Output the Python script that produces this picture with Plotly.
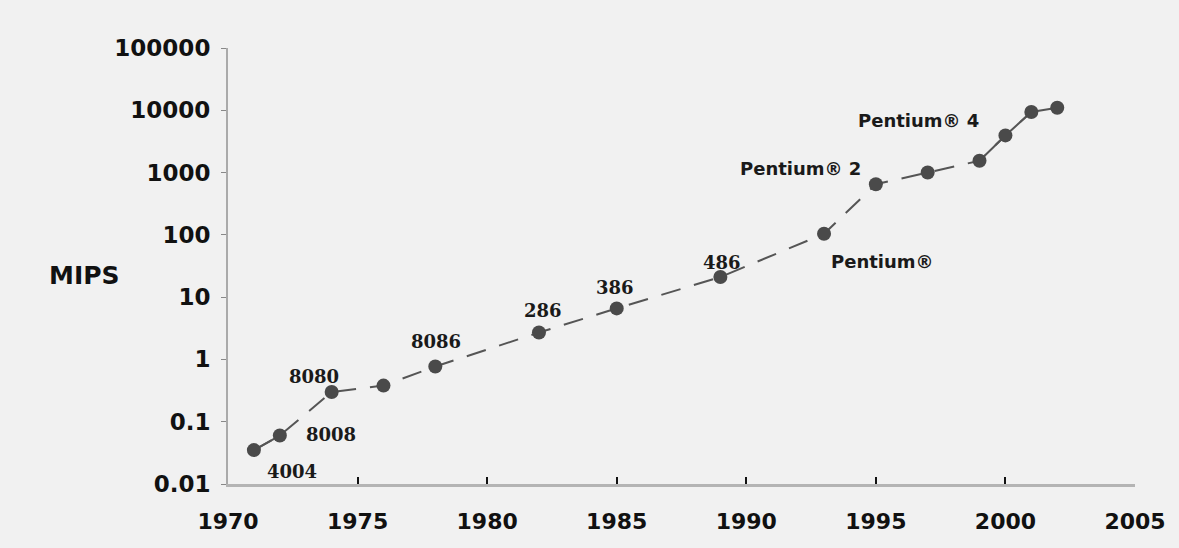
import math
import plotly.graph_objects as go

# Processor performance by year of introduction (MIPS, log scale)
years = [1971, 1972, 1974, 1976, 1978, 1982, 1985, 1989, 1993, 1995, 1997, 1999, 2000, 2001, 2002]
mips = [0.035, 0.06, 0.3, 0.38, 0.77, 2.7, 6.6, 21, 104, 650, 1000, 1550, 3950, 9400, 11000]

# Named chips: label, year, value, pixel offset of the label from its point
chip_labels = ["4004", "8008", "8080", "8086", "286", "386", "486",
               "Pentium®", "Pentium® 2", "Pentium® 4"]
chip_years = [1971, 1972, 1974, 1978, 1982, 1985, 1989, 1993, 1995, 2000]
chip_mips = [0.035, 0.06, 0.3, 0.77, 2.7, 6.6, 21, 104, 650, 3950]
chip_dx = [38, 51, -18, 1, 4, -2, 2, 58, -75, -87]
chip_dy = [-21, 1, 16, 25, 22, 21, 15, -28, 16, 15]

x_ticks = [1970, 1975, 1980, 1985, 1990, 1995, 2000, 2005]
y_ticks = [0.01, 0.1, 1, 10, 100, 1000, 10000, 100000]
y_tick_text = ["0.01", "0.1", "1", "10", "100", "1000", "10000", "100000"]

ink = "#4a4a4a"
fig = go.Figure()

# dashed trend through all chips
fig.add_trace(go.Scatter(x=years, y=mips, mode="lines",
                         line=dict(color="#555555", width=2, dash="20px,14px"),
                         hoverinfo="skip", showlegend=False))
# solid runs at both ends
fig.add_trace(go.Scatter(x=years[-4:], y=mips[-4:], mode="lines",
                         line=dict(color="#555555", width=2),
                         hoverinfo="skip", showlegend=False))
fig.add_trace(go.Scatter(x=years[:2], y=mips[:2], mode="lines",
                         line=dict(color="#555555", width=2),
                         hoverinfo="skip", showlegend=False))
# points
fig.add_trace(go.Scatter(x=years, y=mips, mode="markers",
                         marker=dict(color=ink, size=14, line=dict(width=0)),
                         showlegend=False))

for lab, yr, v, dx, dy in zip(chip_labels, chip_years, chip_mips, chip_dx, chip_dy):
    serif = not lab.startswith("Pentium")
    fig.add_annotation(x=yr, y=math.log10(v), xref="x", yref="y", text=lab,
                       showarrow=False, xshift=dx, yshift=dy,
                       font=dict(family="DejaVu Serif" if serif else "DejaVu Sans",
                                 size=18, color="#1a1a1a", weight="bold"))

fig.add_annotation(x=-0.158, y=0.479, xref="paper", yref="paper", text="MIPS",
                   showarrow=False, xanchor="center", yanchor="middle",
                   font=dict(family="DejaVu Sans", size=25, color="#111111", weight="bold"))

fig.update_layout(
    width=1179, height=548,
    margin=dict(l=228, r=44, t=48, b=64),
    paper_bgcolor="#f1f1f1", plot_bgcolor="rgba(0,0,0,0)",
    xaxis=dict(range=[1970, 2005], tickvals=x_ticks, ticktext=[str(t) for t in x_ticks],
               showgrid=False, zeroline=False,
               showline=True, linecolor="#b4b4b4", linewidth=3,
               ticks="inside", ticklen=7, tickwidth=2, tickcolor="#111111",
               ticklabelstandoff=16,
               tickfont=dict(family="DejaVu Sans", size=22, color="#111111", weight="bold")),
    yaxis=dict(type="log", range=[-2, 5], tickvals=y_ticks, ticktext=y_tick_text,
               showgrid=False, zeroline=False,
               showline=True, linecolor="#aaaaaa", linewidth=2,
               ticks="outside", ticklen=5, tickwidth=1, tickcolor="#888888",
               ticklabelstandoff=6,
               tickfont=dict(family="DejaVu Sans", size=23, color="#111111", weight="bold")),
)

fig.write_html("out.html")
